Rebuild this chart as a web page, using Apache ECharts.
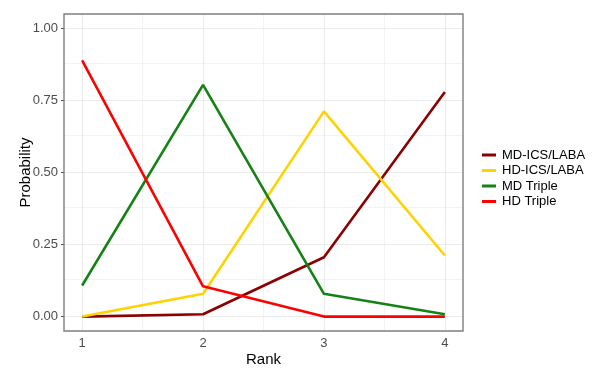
<!DOCTYPE html>
<html>
<head>
<meta charset="utf-8">
<script src="https://cdn.jsdelivr.net/npm/echarts@6/dist/echarts.min.js"></script>
<style>html,body{margin:0;padding:0;background:#fff}#c{width:600px;height:375px}</style>
</head>
<body>
<div id="c"></div>
<script>
var ranks = [1, 2, 3, 4];
var mdIcsLaba = [0.000, 0.008, 0.206, 0.779];
var hdIcsLaba = [0.000, 0.079, 0.712, 0.212];
var mdTriple = [0.108, 0.804, 0.079, 0.008];
var hdTriple = [0.889, 0.105, 0.000, 0.000];
var seriesNames = ['MD-ICS/LABA', 'HD-ICS/LABA', 'MD Triple', 'HD Triple'];
var seriesColors = ['#8B0000', '#FFD200', '#158215', '#FF0000'];
var yTicks = [0, 0.25, 0.5, 0.75, 1];
var yMinorGrid = [0.125, 0.375, 0.625, 0.875];
var xMinorGrid = [1.5, 2.5, 3.5];

var FONT = '"Liberation Sans", Arial, sans-serif';
var allValues = [mdIcsLaba, hdIcsLaba, mdTriple, hdTriple];

function pairs(vals) { return ranks.map(function (r, i) { return [r, vals[i]]; }); }

var gridLines = [];
yTicks.forEach(function (v) { gridLines.push({ yAxis: v, lineStyle: { width: 1.1 } }); });
yMinorGrid.forEach(function (v) { gridLines.push({ yAxis: v, lineStyle: { width: 0.6 } }); });
ranks.forEach(function (v) { gridLines.push({ xAxis: v, lineStyle: { width: 1.1 } }); });
xMinorGrid.forEach(function (v) { gridLines.push({ xAxis: v, lineStyle: { width: 0.6 } }); });

var series = [{
  type: 'line', data: [], silent: true, z: 1, legendHoverLink: false,
  markLine: {
    silent: true, symbol: 'none', label: { show: false }, animation: false, z: 1,
    lineStyle: { color: '#ebebeb', type: 'solid' },
    data: gridLines
  }
}];
seriesNames.forEach(function (n, i) {
  series.push({
    name: n, type: 'line', data: pairs(allValues[i]), showSymbol: false, z: 3,
    lineStyle: { color: seriesColors[i], width: 2.6 }, itemStyle: { color: seriesColors[i] }
  });
});

var chart = echarts.init(document.getElementById('c'), null, { renderer: 'canvas' });
chart.setOption({
  animation: false,
  backgroundColor: '#fff',
  textStyle: { fontFamily: FONT },
  grid: { left: 64, right: 137, top: 14, bottom: 44, show: true, borderColor: '#7f7f7f', borderWidth: 1.4, backgroundColor: 'transparent', z: 5 },
  legend: {
    data: seriesNames, orient: 'vertical', left: 477, top: 143,
    icon: 'rect', itemWidth: 14, itemHeight: 3, itemGap: 1.5,
    textStyle: { fontFamily: FONT, fontSize: 13, color: '#000', lineHeight: 14, padding: [0, 0, 0, 1] }
  },
  xAxis: {
    type: 'value', min: 0.85, max: 4.15,
    name: 'Rank', nameLocation: 'middle', nameGap: 21, nameMoveOverlap: false,
    nameTextStyle: { fontFamily: FONT, fontSize: 15, color: '#000' },
    axisLine: { show: false },
    axisTick: { show: true, length: 3, customValues: ranks, lineStyle: { color: '#4d4d4d' } },
    axisLabel: { customValues: ranks, margin: 6, fontFamily: FONT, fontSize: 13, color: '#4d4d4d' },
    splitLine: { show: false }
  },
  yAxis: {
    type: 'value', min: -0.05, max: 1.05,
    name: 'Probability', nameLocation: 'middle', nameGap: 31, nameMoveOverlap: false,
    nameTextStyle: { fontFamily: FONT, fontSize: 15, color: '#000' },
    axisLine: { show: false },
    axisTick: { show: true, length: 3, customValues: yTicks, lineStyle: { color: '#4d4d4d' } },
    axisLabel: { customValues: yTicks, margin: 6, fontFamily: FONT, fontSize: 13, color: '#4d4d4d',
      formatter: function (v) { return v.toFixed(2); } },
    splitLine: { show: false }
  },
  series: series
});
</script>
</body>
</html>
